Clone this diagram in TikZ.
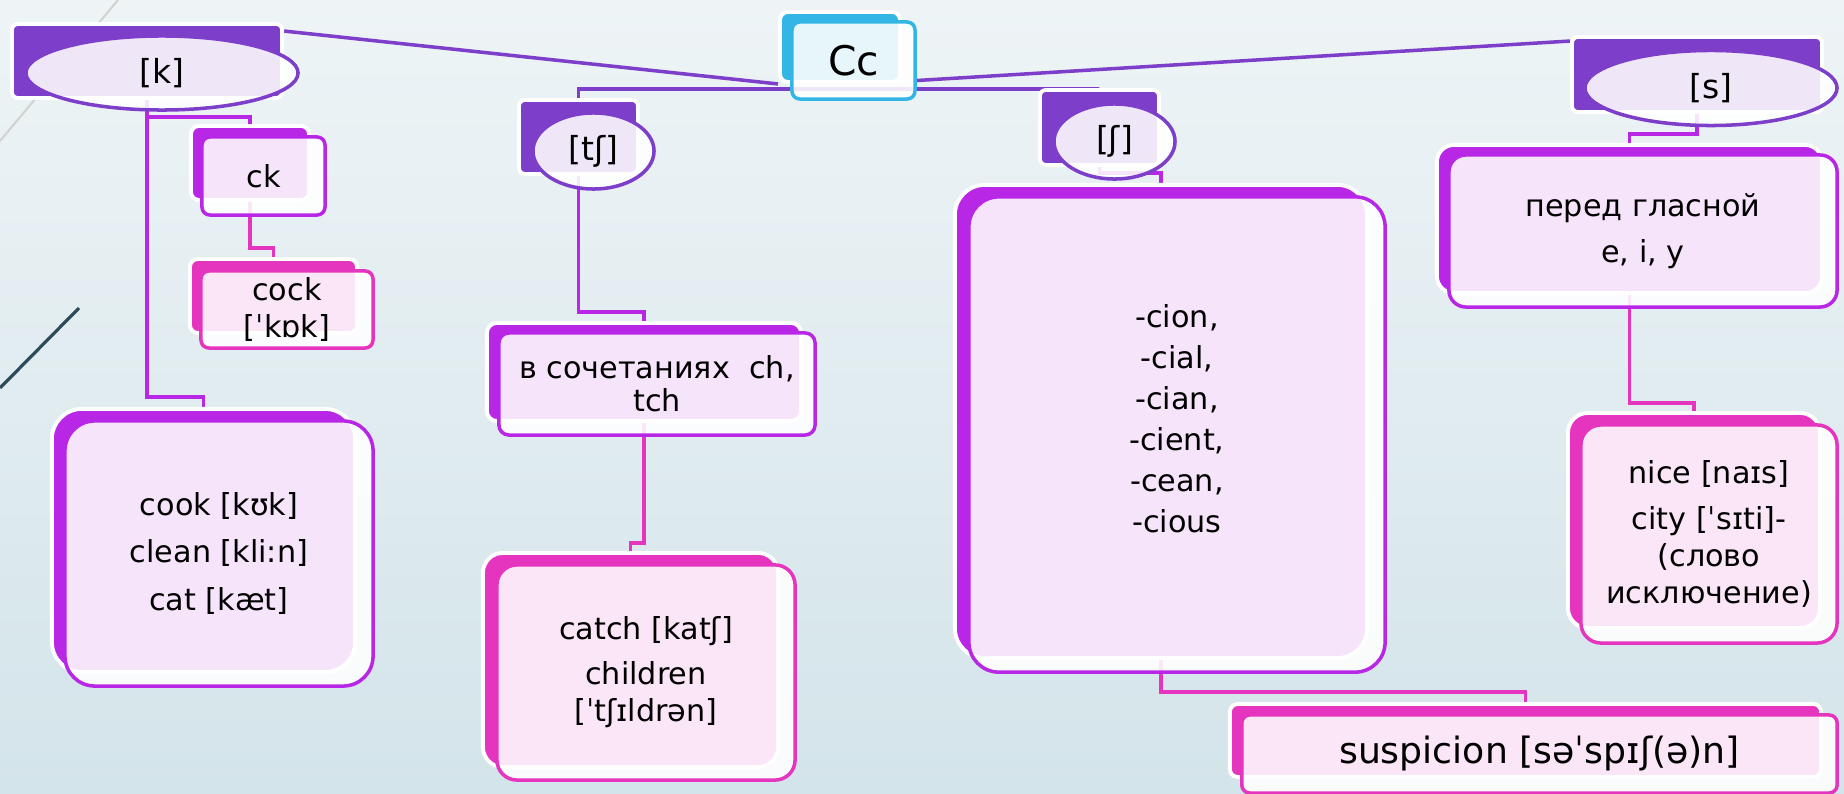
\documentclass[tikz,border=0pt]{standalone}
\usepackage{fontspec}
\setmainfont{DejaVu Sans}
\usepackage{tikz}
\usetikzlibrary{shapes.geometric}
\definecolor{rootc}{HTML}{33B5E5}
\definecolor{sndc}{HTML}{7D3FC9}
\definecolor{grpc}{HTML}{B927E6}
\definecolor{exc}{HTML}{E535BF}
\definecolor{bgtop}{HTML}{EEF4F6}
\definecolor{bgbot}{HTML}{D3E4EA}
\definecolor{deco}{HTML}{2C4A5A}
\pgfdeclarelayer{bg}
\pgfdeclarelayer{wires}
\pgfsetlayers{bg,wires,main}

\begin{document}
\begin{tikzpicture}[x=0.01cm,y=-0.01cm,
  backbox/.style={rectangle,draw=white,line width=1.1pt,inner sep=0pt},
  frontbox/.style={rectangle,draw=#1,fill=white,fill opacity=0.88,text opacity=1,line width=1pt,inner sep=0pt,align=center,font=\fontsize{8.6}{10.5}\selectfont},
  snd/.style={ellipse,draw=sndc,fill=white,fill opacity=0.88,text opacity=1,line width=1pt,inner sep=0pt,font=\fontsize{9.4}{11}\selectfont},
  link/.style={line width=1pt,draw=#1}]
\useasboundingbox (0,0) rectangle (1844,794);
\begin{pgfonlayer}{bg}
\shade[top color=bgtop,bottom color=bgbot] (0,0) rectangle (1844,794);
\draw[line width=0.6pt,gray!35] (118,0) -- (0,141);
\draw[line width=0.9pt,deco] (79,308) -- (0,388);
\end{pgfonlayer}

\node[backbox,fill=rootc,rounded corners=0.08cm,minimum width=1.20cm,minimum height=0.70cm] (Cc-b) at (840,47) {};
\node[frontbox=rootc,rounded corners=0.08cm,minimum width=1.23cm,minimum height=0.77cm,font=\fontsize{11.6}{13}\selectfont] (Cc) at (853.5,60.5) {Cc};

\node[backbox,fill=sndc,rounded corners=0.06cm,minimum width=2.70cm,minimum height=0.74cm] (k-b) at (147,61) {};
\node[snd,minimum width=2.72cm,minimum height=0.74cm] (k) at (162,73) {[k]};
\node[backbox,fill=sndc,rounded corners=0.06cm,minimum width=1.19cm,minimum height=0.74cm] (tS-b) at (578.5,137) {};
\node[snd,minimum width=1.21cm,minimum height=0.76cm] (tS) at (593.5,151) {[tʃ]};
\node[backbox,fill=sndc,rounded corners=0.06cm,minimum width=1.19cm,minimum height=0.75cm] (sh-b) at (1099.5,127.5) {};
\node[snd,minimum width=1.21cm,minimum height=0.75cm] (sh) at (1114.5,141.5) {[ʃ]};
\node[backbox,fill=sndc,rounded corners=0.06cm,minimum width=2.50cm,minimum height=0.75cm] (s-b) at (1697,74.5) {};
\node[snd,minimum width=2.52cm,minimum height=0.75cm] (s) at (1711,88) {[s]};

\node[backbox,fill=grpc,rounded corners=0.08cm,minimum width=1.18cm,minimum height=0.74cm] (ck-b) at (250,163) {};
\node[frontbox=grpc,rounded corners=0.08cm,minimum width=1.23cm,minimum height=0.78cm] (ck) at (263.5,176) {ck};
\node[backbox,fill=grpc,rounded corners=0.3cm,minimum width=3.03cm,minimum height=2.63cm] (cook-b) at (203.5,540.5) {};
\node[frontbox=grpc,rounded corners=0.3cm,minimum width=3.08cm,minimum height=2.65cm] (cook) at (219,553.5) {cook [kʊk]\\[3pt]clean [kli:n]\\[3pt]cat [kæt]};
\node[backbox,fill=grpc,rounded corners=0.1cm,minimum width=3.14cm,minimum height=0.98cm] (vs-b) at (644,372) {};
\node[frontbox=grpc,rounded corners=0.1cm,minimum width=3.16cm,minimum height=1.02cm] (vs) at (657,384) {в сочетаниях\ \ ch,\\[-1pt]tch};
\node[backbox,fill=grpc,rounded corners=0.3cm,minimum width=4.12cm,minimum height=4.73cm] (cion-b) at (1161,421.5) {};
\node[frontbox=grpc,rounded corners=0.3cm,minimum width=4.16cm,minimum height=4.75cm,text depth=0.32cm] (cion) at (1177,434.5) {-cion,\\[1.2pt]-cial,\\[1.2pt]-cian,\\[1.2pt]-cient,\\[1.2pt]-cean,\\[1.2pt]-cious};
\node[backbox,fill=grpc,rounded corners=0.17cm,minimum width=3.85cm,minimum height=1.48cm] (per-b) at (1629.5,219) {};
\node[frontbox=grpc,rounded corners=0.17cm,minimum width=3.88cm,minimum height=1.52cm] (per) at (1643,231) {перед гласной\\[2.6pt]e, i, y};

\node[backbox,fill=exc,rounded corners=0.08cm,minimum width=1.67cm,minimum height=0.74cm] (cock-b) at (273.5,296) {};
\node[frontbox=exc,rounded corners=0.08cm,minimum width=1.72cm,minimum height=0.77cm] (cock) at (287,309.5) {cock\\{}[ˈkɒk]};
\node[backbox,fill=exc,rounded corners=0.2cm,minimum width=2.95cm,minimum height=2.14cm] (catch-b) at (630.5,660) {};
\node[frontbox=exc,rounded corners=0.2cm,minimum width=2.98cm,minimum height=2.15cm] (catch) at (646,672.5) {catch [katʃ]\\[2.3pt]children\\{}[ˈtʃɪldrən]};
\node[backbox,fill=exc,rounded corners=0.08cm,minimum width=5.91cm,minimum height=0.73cm] (susp-b) at (1525.5,740.5) {};
\node[frontbox=exc,rounded corners=0.08cm,minimum width=5.95cm,minimum height=0.78cm,font=\fontsize{10.3}{12}\selectfont] (susp) at (1539.5,754) {suspicion [səˈspɪʃ(ə)n]};
\node[backbox,fill=exc,rounded corners=0.2cm,minimum width=2.52cm,minimum height=2.15cm] (nice-b) at (1694,520.5) {};
\node[frontbox=exc,rounded corners=0.2cm,minimum width=2.56cm,minimum height=2.18cm] (nice) at (1709,534) {nice [naɪs]\\[2.8pt]city [ˈsɪti]-\\(слово\\исключение)};

\begin{pgfonlayer}{wires}
\draw[link=sndc] ([yshift=-0.09cm]k-b.north east) -- (Cc-b.south west);
\draw[link=sndc] ([yshift=-0.2cm]Cc.east) -- ([yshift=-0.06cm]s-b.north west);
\draw[link=sndc] (tS-b.north) |- ([yshift=-0.05cm]Cc-b.south) -| (sh-b.north);
\draw[link=grpc] (k-b.south) -- ++(0,17) -| (ck-b.north);
\draw[link=grpc] (k-b.south) -- ++(0,297) -| (cook-b.north);
\draw[link=exc] (ck-b.south) -- ++(0,46) -| (cock-b.north);
\draw[link=grpc] (tS-b.south) -- ++(0,136) -| (vs-b.north);
\draw[link=exc] (vs-b.south) -- ++(0,120) -| (catch-b.north);
\draw[link=grpc] (sh-b.south) -- ++(0,6) -| (cion-b.north);
\draw[link=exc] (cion-b.south) -- ++(0,32) -| (susp-b.north);
\draw[link=grpc] (s-b.south) -- ++(0,20) -| (per-b.north);
\draw[link=exc] (per-b.south) -- ++(0,108) -| (nice-b.north);
\end{pgfonlayer}
\end{tikzpicture}
\end{document}
